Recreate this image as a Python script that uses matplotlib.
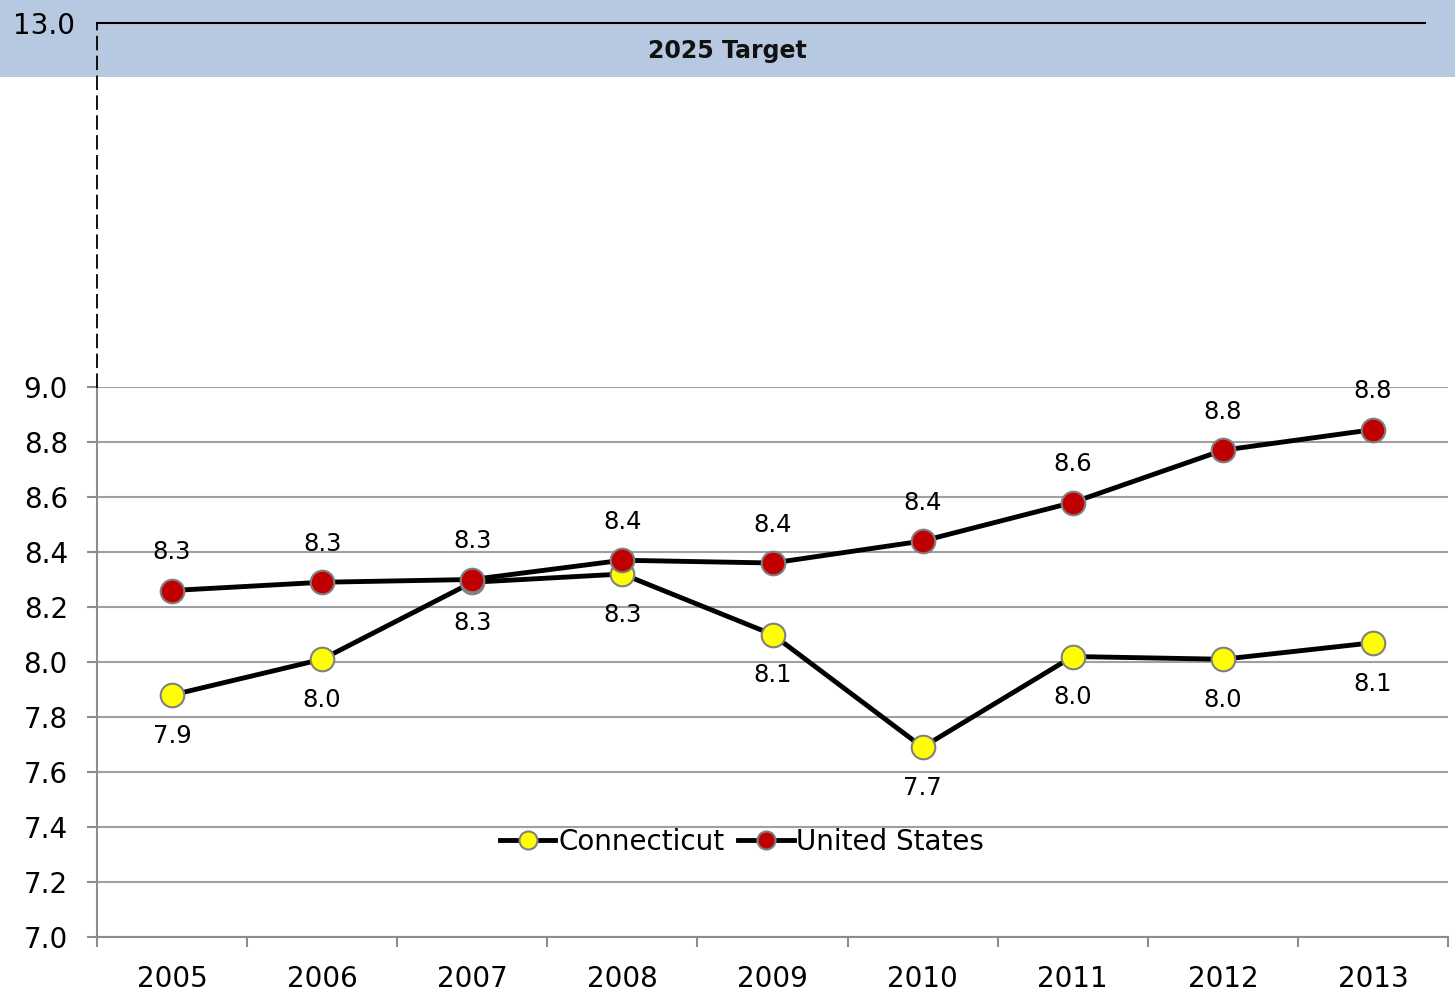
import matplotlib
matplotlib.use("Agg")
import matplotlib.pyplot as plt
from matplotlib.patches import Rectangle
from matplotlib.lines import Line2D

plt.rcParams["font.family"] = ["DejaVu Sans"]

# Données
years = ["2005", "2006", "2007", "2008", "2009", "2010", "2011", "2012", "2013"]
connecticut = [7.88, 8.01, 8.29, 8.32, 8.10, 7.69, 8.02, 8.01, 8.07]
united_states = [8.26, 8.29, 8.30, 8.37, 8.36, 8.44, 8.58, 8.77, 8.845]
ct_labels = ["7.9", "8.0", "8.3", "8.3", "8.1", "7.7", "8.0", "8.0", "8.1"]
us_labels = ["8.3", "8.3", "8.3", "8.4", "8.4", "8.4", "8.6", "8.8", "8.8"]
y_ticks = [7.0, 7.2, 7.4, 7.6, 7.8, 8.0, 8.2, 8.4, 8.6, 8.8, 9.0]
target_value = 13.0
target_label = "2025 Target"

W, H = 1455, 997
fig = plt.figure(figsize=(W / 100, H / 100), dpi=100)

# Bande bleue en haut
fig.patches.append(Rectangle((0, (H - 77) / H), 1, 77 / H, transform=fig.transFigure,
                             facecolor="#B7C9E1", edgecolor="none", zorder=-5))
fig.text(727 / W, (H - 51) / H, target_label, ha="center", va="center",
         fontsize=17, fontweight="bold", color="#111111")

left, right = 97 / W, 1448 / W
ax = fig.add_axes([left, (H - 937) / H, right - left, 550 / H])
x = list(range(len(years)))

ax.plot(x, connecticut, color="black", linewidth=3.5, marker="o", markersize=17,
        markerfacecolor="#FFFF00", markeredgecolor="#808080", markeredgewidth=1.5,
        label="Connecticut", zorder=3)
ax.plot(x, united_states, color="black", linewidth=3.5, marker="o", markersize=17,
        markerfacecolor="#C00000", markeredgecolor="#808080", markeredgewidth=1.5,
        label="United States", zorder=4)

for xi, v, lab in zip(x, connecticut, ct_labels):
    ax.annotate(lab, (xi, v), xytext=(0, -29.5), textcoords="offset points",
                ha="center", va="center", fontsize=17.5, color="black")
for xi, v, lab in zip(x, united_states, us_labels):
    ax.annotate(lab, (xi, v), xytext=(0, 27.5), textcoords="offset points",
                ha="center", va="center", fontsize=17.5, color="black")

ax.set_xlim(-0.5, len(years) - 0.5)
ax.set_ylim(7.0, 9.0)
ax.set_yticks(y_ticks)
ax.set_yticklabels([f"{t:.1f}" for t in y_ticks], fontsize=20)
ax.set_xticks([i - 0.5 for i in range(len(years) + 1)])
ax.set_xticklabels([])
ax.set_xticks(x, minor=True)
ax.set_xticklabels(years, minor=True, fontsize=20)
ax.tick_params(axis="x", which="major", length=7, width=1.5, color="#8C8C8C", direction="out")
ax.tick_params(axis="x", which="minor", length=0, pad=20)
ax.tick_params(axis="y", length=7, width=1.5, color="#8C8C8C", pad=14)
ax.grid(axis="y", color="#A0A0A0", linewidth=1.5)
ax.set_axisbelow(True)
for s in ["top", "right"]:
    ax.spines[s].set_visible(False)
for s in ["left", "bottom"]:
    ax.spines[s].set_color("#8C8C8C")
    ax.spines[s].set_linewidth(1.5)

handles = [
    Line2D([], [], color="black", linewidth=3.5, marker="o", markersize=13,
           markerfacecolor="#FFFF00", markeredgecolor="#808080", markeredgewidth=1.5),
    Line2D([], [], color="black", linewidth=3.5, marker="o", markersize=13,
           markerfacecolor="#C00000", markeredgecolor="#808080", markeredgewidth=1.5),
]
ax.legend(handles, ["Connecticut", "United States"], loc="center",
          bbox_to_anchor=(742 / W, (H - 842) / H), bbox_transform=fig.transFigure,
          ncol=2, frameon=False, fontsize=20, handlelength=2.0, handletextpad=0.1,
          columnspacing=0.5, borderpad=0)

# Partie haute (coupure de l'axe jusqu'à la cible)
top_ax = fig.add_axes([left, (H - 387) / H, right - left, 364 / H])
top_ax.patch.set_visible(False)
top_ax.set_xlim(0, 1)
top_ax.set_ylim(9.0, target_value)
top_ax.set_xticks([])
top_ax.set_yticks([target_value])
top_ax.set_yticklabels([f"{target_value:.1f}"], fontsize=20)
top_ax.tick_params(axis="y", length=0, pad=16)
for s in ["top", "right", "bottom"]:
    top_ax.spines[s].set_visible(False)
top_ax.spines["left"].set_linestyle((0, (7, 4)))
top_ax.spines["left"].set_linewidth(1.3)
top_ax.spines["left"].set_color("black")
top_ax.axhline(target_value, xmin=0, xmax=(1425 - 97) / 1351, color="black",
               linewidth=1.5, clip_on=False)

fig.savefig("out.png", dpi=100)
